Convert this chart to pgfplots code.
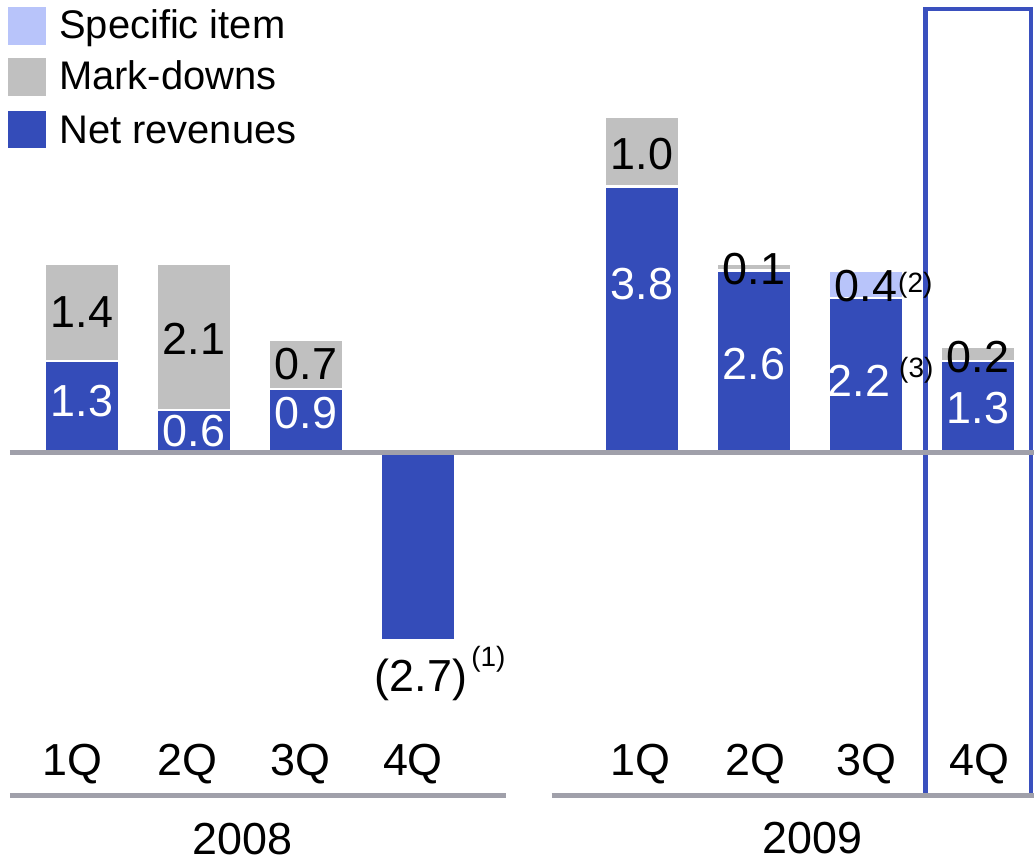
\documentclass[border=0pt]{standalone}
\usepackage{pgfplots}
\pgfplotsset{compat=1.18}
\usepackage{fontspec}
\setmainfont{Liberation Sans}
\definecolor{nrblue}{RGB}{52,76,185}
\definecolor{mdgray}{RGB}{192,192,192}
\definecolor{spblue}{RGB}{184,196,250}
\definecolor{lgray}{RGB}{160,160,170}
\definecolor{hlblue}{RGB}{58,80,190}
\newcommand{\vlab}{\fontsize{22.5}{25}\selectfont}
\newcommand{\slab}{\fontsize{14}{16}\selectfont}
\newcommand{\llab}{\fontsize{20}{22}\selectfont}
\tikzset{
  vl/.style={inner sep=0pt, anchor=base, font=\vlab},
  sl/.style={inner sep=0pt, anchor=base west, font=\slab},
  ll/.style={inner sep=0pt, anchor=base west, font=\llab},
}
\begin{document}
\begin{tikzpicture}
\begin{axis}[
  scale only axis, width=518pt, height=432pt,
  xmin=-0.7302, xmax=8.4951, ymin=-5.8714, ymax=6.4714,
  ybar stacked, bar width=0.668,
  axis line style={draw=none}, tick style={draw=none}, major tick length=0pt,
  ytick=\empty,
  xtick={-0.080,0.944,1.950,2.956,4.987,6.011,7.008,8.014},
  xticklabels={1Q,2Q,3Q,4Q,1Q,2Q,3Q,4Q},
  xticklabel style={font=\vlab, anchor=base, inner sep=0pt, yshift=43.5pt},
  clip=false,
]
% Net revenues
\addplot[fill=nrblue, draw=white, line width=1.2pt] coordinates {(0,1.3) (1,0.6) (2,0.9) (3,-2.7) (5,3.8) (6,2.6) (7,2.2) (8,1.3)};
% Mark-downs
\addplot[fill=mdgray, draw=white, line width=1.2pt] coordinates {(0,1.4) (1,2.1) (2,0.7) (3,0) (5,1.0) (6,0.1) (7,0) (8,0.2)};
% Specific item
\addplot[fill=spblue, draw=white, line width=1.2pt] coordinates {(0,0) (1,0) (2,0) (3,0) (5,0) (6,0) (7,0.4) (8,0)};

% label anchors (drawn after the axis so they sit above the bars)
\coordinate (L1) at (axis cs:0,1.786);
\coordinate (L2) at (axis cs:0,0.514);
\coordinate (L3) at (axis cs:1,1.400);
\coordinate (L4) at (axis cs:1,0.071);
\coordinate (L5) at (axis cs:2,1.043);
\coordinate (L6) at (axis cs:2,0.329);
\coordinate (L7) at (axis cs:3.028,-3.429);
\coordinate (L8) at (axis cs:5,4.043);
\coordinate (L9) at (axis cs:5,2.186);
\coordinate (L10) at (axis cs:6,2.400);
\coordinate (L11) at (axis cs:6,1.043);
\coordinate (L12) at (axis cs:7,2.157);
\coordinate (L13) at (axis cs:6.937,0.800);
\coordinate (L14) at (axis cs:8,1.143);
\coordinate (L15) at (axis cs:8,0.400);
\coordinate (S1) at (axis cs:3.473,-3.071);
\coordinate (S2) at (axis cs:7.284,2.286);
\coordinate (S3) at (axis cs:7.293,1.071);
\coordinate (Z0) at (axis cs:-0.641,-0.007);
\coordinate (Z1) at (axis cs:8.4951,-0.007);

% group lines
\draw[lgray, line width=2.5pt] (axis cs:-0.641,-4.921) -- (axis cs:3.785,-4.921);
\draw[lgray, line width=2.5pt] (axis cs:4.194,-4.921) -- (axis cs:8.4951,-4.921);
% years
\node[vl] at (axis cs:1.433,-5.771) {2008};
\node[vl] at (axis cs:6.523,-5.757) {2009};
% highlight
\draw[hlblue, line width=2.25pt] (axis cs:7.529,6.343) rectangle (axis cs:8.473,-4.914);

% legend
\fill[spblue] (axis cs:-0.659,6.371) rectangle (axis cs:-0.3206,5.829);
\fill[mdgray] (axis cs:-0.659,5.643) rectangle (axis cs:-0.3206,5.100);
\fill[nrblue] (axis cs:-0.659,4.886) rectangle (axis cs:-0.3206,4.357);
\node[ll] at (axis cs:-0.205,5.914) {Specific item};
\node[ll] at (axis cs:-0.205,5.186) {Mark-downs};
\node[ll] at (axis cs:-0.205,4.414) {Net revenues};
\end{axis}
% zero line
\draw[lgray, line width=2.5pt] (Z0) -- (Z1);
% value labels
\node[vl] at (L1) {1.4};
\node[vl,white] at (L2) {1.3};
\node[vl] at (L3) {2.1};
\node[vl,white] at (L4) {0.6};
\node[vl] at (L5) {0.7};
\node[vl,white] at (L6) {0.9};
\node[vl] at (L7) {(2.7)};
\node[vl] at (L8) {1.0};
\node[vl,white] at (L9) {3.8};
\node[vl] at (L10) {0.1};
\node[vl,white] at (L11) {2.6};
\node[vl] at (L12) {0.4};
\node[vl,white] at (L13) {2.2};
\node[vl] at (L14) {0.2};
\node[vl,white] at (L15) {1.3};
\node[sl] at (S1) {(1)};
\node[sl] at (S2) {(2)};
\node[sl] at (S3) {(3)};
\end{tikzpicture}
\end{document}
